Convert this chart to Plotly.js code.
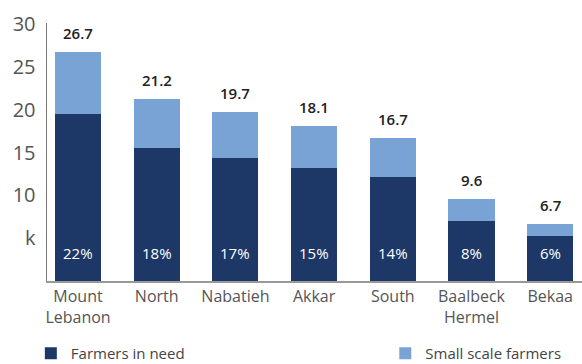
<!DOCTYPE html>
<html>
<head>
<meta charset="utf-8">
<script src="https://cdn.plot.ly/plotly-3.0.1.min.js"></script>
<style>html,body{margin:0;padding:0;background:#fff;}#chart{width:582px;height:364px;}</style>
</head>
<body>
<div id="chart"></div>
<script>
const regions = ["Mount<br>Lebanon", "North", "Nabatieh", "Akkar", "South", "Baalbeck<br>Hermel", "Bekaa"];
const farmersInNeed = [19.5, 15.5, 14.4, 13.2, 12.2, 7.0, 5.2];
const totals = [26.7, 21.2, 19.7, 18.1, 16.7, 9.6, 6.7];
const smallScale = totals.map((t, i) => +(t - farmersInNeed[i]).toFixed(1));
const shares = ["22%", "18%", "17%", "15%", "14%", "8%", "6%"];
const yTickVals = [5, 10, 15, 20, 25, 30];
const yTickText = ["k", "10", "15", "20", "25", "30"];

const FONT = "Open Sans, Lato, sans-serif";
const DARK = "#1d3866";
const LIGHT = "#79a3d5";

const traces = [
  {type: "bar", name: "Farmers in need", x: regions, y: farmersInNeed,
   marker: {color: DARK}, hoverinfo: "none", width: 0.585, legend: "legend"},
  {type: "bar", name: "Small scale farmers", x: regions, y: smallScale,
   marker: {color: LIGHT}, hoverinfo: "none", width: 0.585, legend: "legend2"}
];

const annotations = [];
regions.forEach((r, i) => {
  annotations.push({x: r, y: totals[i], xref: "x", yref: "y", text: totals[i].toFixed(1),
    showarrow: false, yanchor: "bottom", yshift: 7,
    font: {family: FONT, size: 15, color: "#222", weight: 600}});
  annotations.push({x: r, y: 0, xref: "x", yref: "y", text: shares[i],
    showarrow: false, yanchor: "middle", yshift: 28,
    font: {family: FONT, size: 15, color: "#ffffff"}});
});

const legendFont = {family: FONT, size: 15, color: "#444"};
const layout = {
  width: 582, height: 364,
  margin: {l: 47, r: 0, t: 23, b: 83, autoexpand: false},
  paper_bgcolor: "#fff", plot_bgcolor: "#fff",
  barmode: "stack",
  showlegend: true,
  legend: {orientation: "h", xref: "container", yref: "container", x: 0.053, xanchor: "left",
    y: 0.074, yanchor: "top", font: legendFont},
  legend2: {orientation: "h", xref: "container", yref: "container", x: 0.662, xanchor: "left",
    y: 0.074, yanchor: "top", font: legendFont},
  xaxis: {type: "category", range: [-0.394, 6.404], showgrid: false, zeroline: false,
    showline: true, linecolor: "#999", linewidth: 2, ticks: "",
    tickfont: {family: FONT, size: 16, color: "#555"}},
  yaxis: {range: [0, 30.13], showgrid: false, zeroline: false,
    showline: true, linecolor: "#777", linewidth: 1.5, ticks: "",
    tickvals: yTickVals, ticktext: yTickText, ticklabelstandoff: 6,
    tickfont: {family: FONT, size: 20, color: "#555"}},
  annotations: annotations
};

Plotly.newPlot("chart", traces, layout, {staticPlot: true, displayModeBar: false});
</script>
</body>
</html>
